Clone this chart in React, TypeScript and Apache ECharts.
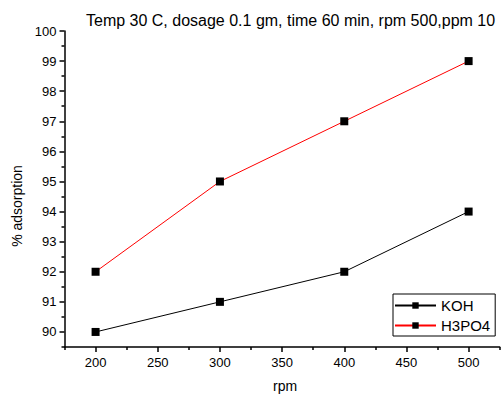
import React, { useEffect, useRef } from "react";
import * as echarts from "echarts";

const rpm = [200, 300, 400, 500];
const koh = [90, 91, 92, 94];
const h3po4 = [92, 95, 97, 99];
const yMajor = [90, 91, 92, 93, 94, 95, 96, 97, 98, 99, 100];
const yMinor = [89.5, 90.5, 91.5, 92.5, 93.5, 94.5, 95.5, 96.5, 97.5, 98.5, 99.5];
const xMajor = [200, 250, 300, 350, 400, 450, 500];
const xMinor = [175, 225, 275, 325, 375, 425, 475, 525];
const titleText = "Temp 30 C, dosage 0.1 gm, time 60 min, rpm 500,ppm 10";
const yName = "% adsorption";
const xName = "rpm";

const FONT = "Arial, 'Liberation Sans', sans-serif";

export default function App() {
  const ref = useRef<HTMLDivElement>(null);
  useEffect(() => {
    if (!ref.current) return;
    const chart = echarts.init(ref.current, undefined, { renderer: "svg" });
    const axisLine = { show: true, lineStyle: { color: "#000", width: 1.5 } };
    chart.setOption({
      animation: false,
      backgroundColor: "#fff",
      title: {
        text: titleText,
        left: 86,
        top: 12,
        padding: 0,
        textStyle: { fontFamily: FONT, fontSize: 16, fontWeight: "normal", color: "#000" },
      },
      graphic: [
        {
          type: "text",
          x: 17,
          y: 206,
          rotation: Math.PI / 2,
          style: {
            text: yName,
            fontFamily: FONT,
            fontSize: 14,
            fill: "#000",
            align: "center",
            verticalAlign: "middle",
          },
        },
      ],
      grid: { left: 64.5, right: 1.3, top: 31, bottom: 48.3, containLabel: false },
      legend: {
        orient: "vertical",
        left: 393,
        top: 294,
        padding: [4, 5, 3, 1],
        itemGap: 5,
        itemWidth: 41,
        itemHeight: 8,
        borderColor: "#000",
        borderWidth: 1,
        borderRadius: 0,
        backgroundColor: "#fff",
        textStyle: { fontFamily: FONT, fontSize: 15, color: "#000", padding: [0, 0, 0, 0] },
        data: ["KOH", "H3PO4"],
      },
      xAxis: [
        {
          type: "value",
          min: 175,
          max: 525,
          name: xName,
          nameLocation: "middle",
          nameGap: 32,
          nameTextStyle: { fontFamily: FONT, fontSize: 14, color: "#000", padding: [0, 0, 0, 6] },
          axisLine,
          splitLine: { show: false },
          axisTick: { show: true, inside: false, length: 5, customValues: xMajor, lineStyle: { color: "#000", width: 1.5 } },
          axisLabel: { customValues: xMajor, fontFamily: FONT, fontSize: 13, color: "#000", margin: 9 },
        },
        {
          type: "value",
          min: 175,
          max: 525,
          position: "bottom",
          axisLine: { show: false },
          splitLine: { show: false },
          axisTick: { show: true, inside: false, length: 3, customValues: xMinor, lineStyle: { color: "#000", width: 1.5 } },
          axisLabel: { show: false },
        },
      ],
      yAxis: [
        {
          type: "value",
          min: 89.5,
          max: 100,
          axisLine,
          splitLine: { show: false },
          axisTick: { show: true, inside: false, length: 5, customValues: yMajor, lineStyle: { color: "#000", width: 1.5 } },
          axisLabel: { customValues: yMajor, fontFamily: FONT, fontSize: 13, color: "#000", margin: 8 },
        },
        {
          type: "value",
          min: 89.5,
          max: 100,
          position: "left",
          axisLine: { show: false },
          splitLine: { show: false },
          axisTick: { show: true, inside: false, length: 3, customValues: yMinor, lineStyle: { color: "#000", width: 1.5 } },
          axisLabel: { show: false },
        },
      ],
      series: [
        {
          name: "KOH",
          type: "line",
          data: rpm.map((x, i) => [x, koh[i]]),
          symbol: "rect",
          symbolSize: 8,
          lineStyle: { color: "#000", width: 1 },
          itemStyle: { color: "#000" },
        },
        {
          name: "H3PO4",
          type: "line",
          data: rpm.map((x, i) => [x, h3po4[i]]),
          symbol: "rect",
          symbolSize: 8,
          lineStyle: { color: "#ff0000", width: 1 },
          itemStyle: { color: "#000" },
        },
      ],
    });
    return () => chart.dispose();
  }, []);
  return <div ref={ref} style={{ width: 501, height: 398, position: "absolute", left: 0, top: 0 }} />;
}
